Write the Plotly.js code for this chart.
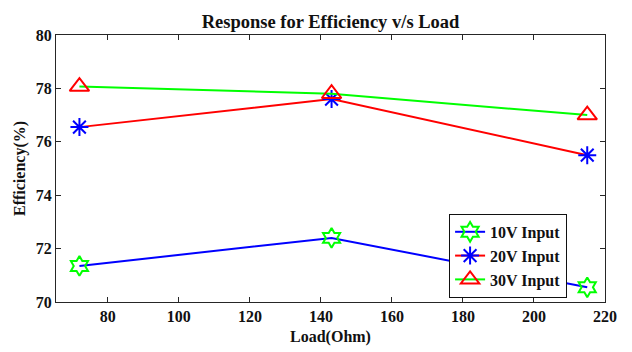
<!DOCTYPE html>
<html>
<head>
<meta charset="utf-8">
<script src="https://cdn.plot.ly/plotly-3.0.1.min.js"></script>
<style>html,body{margin:0;padding:0;background:#fff;}#chart{width:632px;height:352px;}</style>
</head>
<body>
<div id="chart"></div>
<script>
var loadOhm = [72, 143, 215];
var eff10V = [71.35, 72.4, 70.55];
var eff20V = [76.55, 77.6, 75.5];
var eff30V = [78.07, 77.8, 77.0];
var seriesNames = ['10V Input', '20V Input', '30V Input'];
var xTicks = [80, 100, 120, 140, 160, 180, 200, 220];
var yTicks = [70, 72, 74, 76, 78, 80];

var font = '"Liberation Serif", "Times New Roman", serif';
function tr(y, name, lineColor, sym, mColor, mSize) {
  return {
    x: loadOhm, y: y, name: '<b>' + name + '</b>', type: 'scatter', mode: 'lines+markers',
    line: {color: lineColor, width: 2},
    marker: {symbol: sym, size: mSize, color: mColor, line: {color: mColor, width: 2}}
  };
}
var data = [
  tr(eff10V, seriesNames[0], '#0000ff', 'hexagram-open', '#00ff00', 15),
  tr(eff20V, seriesNames[1], '#ff0000', 'asterisk-open', '#0000ff', 15),
  tr(eff30V, seriesNames[2], '#00ff00', 'triangle-up-open', '#ff0000', 17)
];
function bold(v) { return v.map(function (t) { return '<b>' + t + '</b>'; }); }
var axisCommon = {
  showgrid: false, zeroline: false, showline: true, linecolor: '#262626', linewidth: 1,
  mirror: 'allticks', ticks: 'inside', ticklen: 5, tickcolor: '#262626',
  tickfont: {family: font, size: 16, color: '#111'}
};
var layout = {
  width: 632, height: 352,
  margin: {l: 56, r: 27, t: 35, b: 50},
  paper_bgcolor: '#fff', plot_bgcolor: '#fff',
  title: {text: '<b>Response for Efficiency v/s Load</b>', x: 0.523, xanchor: 'center', y: 0.94, yanchor: 'middle',
          font: {family: font, size: 18.5, color: '#111'}},
  xaxis: Object.assign({}, axisCommon, {
    range: [65.4, 220], tickvals: xTicks, ticktext: bold(xTicks),
    title: {text: '<b>Load(Ohm)</b>', font: {family: font, size: 16, color: '#111'}, standoff: 6}
  }),
  yaxis: Object.assign({}, axisCommon, {
    range: [70, 80], tickvals: yTicks, ticktext: bold(yTicks),
    title: {text: '<b>Efficiency(%)</b>', font: {family: font, size: 16, color: '#111'}, standoff: 6}
  }),
  showlegend: true,
  legend: {
    x: 0.716, y: 0.33, xanchor: 'left', yanchor: 'top',
    bordercolor: '#111', borderwidth: 1, bgcolor: '#fff',
    font: {family: font, size: 16, color: '#111'},
    itemwidth: 30
  }
};
Plotly.newPlot('chart', data, layout, {displayModeBar: false, staticPlot: true});
</script>
</body>
</html>
